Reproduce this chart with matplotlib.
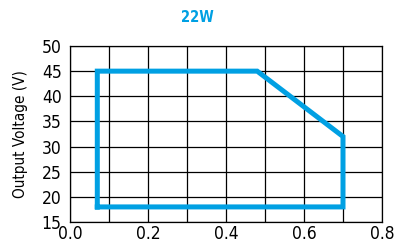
import matplotlib
matplotlib.use('Agg')
import matplotlib.pyplot as plt

# derating envelope (current in A, voltage in V)
current = [0.07, 0.07, 0.48, 0.70, 0.70, 0.07]
voltage = [18, 45, 45, 32, 18, 18]

x_ticks = [0.0, 0.2, 0.4, 0.6, 0.8]
y_ticks = [15, 20, 25, 30, 35, 40, 45, 50]

plt.rcParams['font.family'] = ['DejaVu Sans']
plt.rcParams['font.stretch'] = 'condensed'

fig = plt.figure(figsize=(3.95, 2.44), dpi=100)
ax = fig.add_axes([70 / 395, 22 / 244, 312 / 395, 176 / 244])

ax.plot(current, voltage, color='#00a0e3', linewidth=3.6,
        solid_joinstyle='miter', solid_capstyle='projecting', zorder=5)

ax.set_xlim(0, 0.8)
ax.set_ylim(15, 50)
ax.set_xticks([i / 10 for i in range(9)])
ax.set_xticklabels(['0.0', '', '0.2', '', '0.4', '', '0.6', '', '0.8'])
ax.set_yticks(y_ticks)
ax.tick_params(length=0, labelsize=12.5)
ax.tick_params(axis='x', pad=2)
ax.tick_params(axis='y', pad=6)
ax.grid(color='black', linewidth=0.9)
for s in ax.spines.values():
    s.set_linewidth(0.9)

ax.set_ylabel('Output Voltage (V)', fontsize=11, labelpad=10)
fig.text(0.5, 0.93, '22W', color='#00a0e3', fontsize=10.5, fontweight='bold',
         ha='center', va='center')

fig.savefig('out.png', dpi=100)
